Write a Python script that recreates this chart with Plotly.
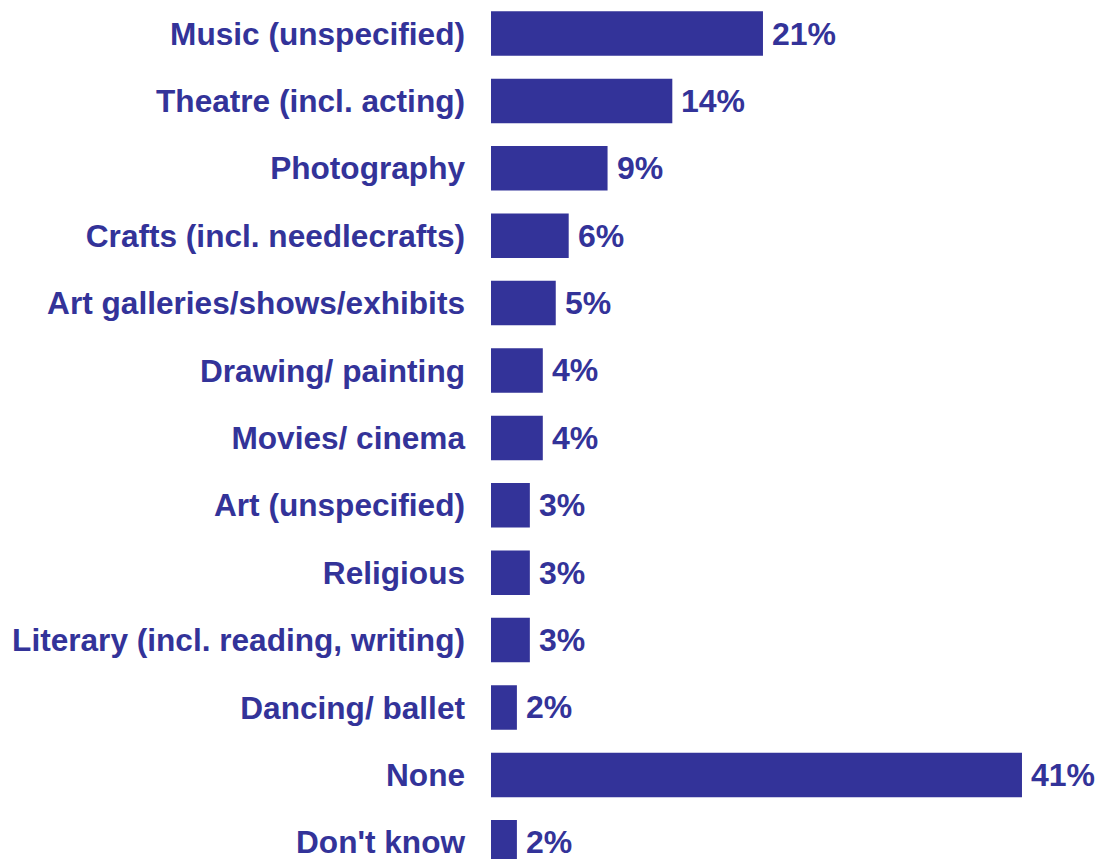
import plotly.graph_objects as go

# Survey categories, top to bottom
categories = [
    "Music (unspecified)",
    "Theatre (incl. acting)",
    "Photography",
    "Crafts (incl. needlecrafts)",
    "Art galleries/shows/exhibits",
    "Drawing/ painting",
    "Movies/ cinema",
    "Art (unspecified)",
    "Religious",
    "Literary (incl. reading, writing)",
    "Dancing/ ballet",
    "None",
    "Don't know",
]
# Share of respondents, percent
values = [21, 14, 9, 6, 5, 4, 4, 3, 3, 3, 2, 41, 2]
value_labels = [f"{v}%" for v in values]

NAVY = "#333399"
FONT = "Liberation Sans, Arial, Helvetica, sans-serif"

fig = go.Figure(
    go.Bar(
        x=values,
        y=categories,
        orientation="h",
        marker=dict(color=NAVY, line=dict(width=0)),
        hoverinfo="skip",
    )
)

# Percentage labels just to the right of each bar
for cat, v, lab in zip(categories, values, value_labels):
    fig.add_annotation(
        x=v,
        y=cat,
        text=f"<b>{lab}</b>",
        showarrow=False,
        xanchor="left",
        yanchor="middle",
        xshift=7,
        font=dict(family=FONT, size=32, color=NAVY),
    )

fig.update_layout(
    width=1098,
    height=859,
    margin=dict(l=491, r=0, t=0, b=0),
    paper_bgcolor="white",
    plot_bgcolor="white",
    bargap=0.34,
    showlegend=False,
    font=dict(family=FONT, color=NAVY),
)

fig.update_xaxes(
    range=[0, 46.87],
    visible=False,
    showgrid=False,
    zeroline=False,
)

fig.update_yaxes(
    type="category",
    range=[12.248, -0.497],
    showgrid=False,
    zeroline=False,
    showline=False,
    ticks="",
    ticklabelstandoff=25,
    tickfont=dict(family=FONT, size=31.6, color=NAVY, weight="bold"),
)

fig.write_html("out.html")
